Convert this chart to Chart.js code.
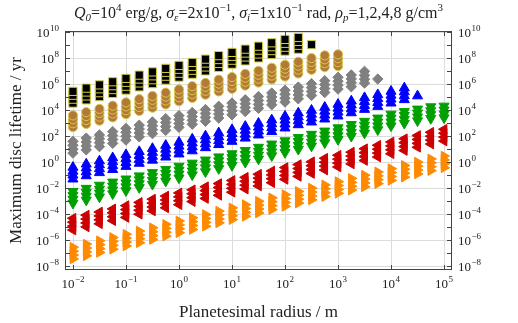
<!DOCTYPE html>
<html>
<head>
<meta charset="utf-8">
<script src="https://cdn.jsdelivr.net/npm/chart.js@4.4.0/dist/chart.umd.min.js"></script>
<style>
  html, body { margin: 0; padding: 0; background: #fff; }
  #wrap { width: 518px; height: 323px; }
</style>
</head>
<body>
<div id="wrap"><canvas id="chart"></canvas></div>
<script>
// planetesimal radius in m (one column of markers per value)
const radius = [1.00e-2, 1.78e-2, 3.16e-2, 5.62e-2, 1.00e-1, 1.78e-1, 3.16e-1, 5.62e-1,
  1.00, 1.78, 3.16, 5.62, 10.0, 17.8, 31.6, 56.2, 100, 178, 316, 562,
  1.00e3, 1.78e3, 3.16e3, 5.62e3, 1.00e4, 1.78e4, 3.16e4, 5.62e4, 1.00e5];

// densities in g/cm3, lifetime goes up with rho
const densities = [1, 2, 4, 8];

// max lifetime (yr) for rho = 1
const tBlack = [3.55e4, 6.31e4, 1.12e5, 1.95e5, 3.55e5, 6.31e5, 1.12e6, 2.09e6, 3.55e6, 6.0e6,
  1.07e7, 2.0e7, 3.55e7, 6.31e7, 1.07e8, 1.95e8, 3.55e8, 5.0e8];
const tBlackEnd = 1.12e9;
const tBrown = [5.01e2, 8.91e2, 1.58e3, 2.82e3, 5.01e3, 8.91e3, 1.58e4, 2.82e4, 5.01e4, 8.91e4,
  1.58e5, 2.82e5, 4.47e5, 7.94e5, 1.35e6, 2.34e6, 3.98e6, 6.76e6, 1.29e7, 2.09e7, 2.51e7];
const tGray = [5.01, 8.91, 15.8, 28.2, 50.1, 89.1, 158, 282, 479, 832,
  1.41e3, 2.51e3, 4.47e3, 7.94e3, 1.41e4, 2.63e4, 4.27e4, 7.59e4, 1.38e5, 2.34e5,
  4.27e5, 6.46e5, 1.23e6];
const tGrayEnd = 2.51e6;
const tBlue = [0.0501, 0.0891, 0.155, 0.269, 0.468, 0.813, 1.41, 2.45, 4.27, 7.41,
  12.9, 22.4, 39.8, 70.8, 123, 224, 427, 759, 1.23e3, 2.09e3,
  3.55e3, 6.31e3, 1.15e4, 1.95e4, 3.55e4, 6.46e4];
const tBlueEnd = 1.26e5;
const tGreen = [7.08e-4, 1.23e-3, 2.14e-3, 3.72e-3, 6.46e-3, 1.12e-2, 2.0e-2, 3.55e-2, 6.17e-2, 0.107,
  0.186, 0.324, 0.562, 1.0, 1.78, 3.16, 5.62, 10, 17.8, 31.6,
  56.2, 100, 178, 316, 631, 1.0e3, 1.55e3, 2.34e3, 2.63e3];
const tRed = [6.03e-6, 1.05e-5, 1.82e-5, 3.16e-5, 5.62e-5, 1.0e-4, 1.78e-4, 3.09e-4, 5.37e-4, 9.33e-4,
  1.62e-3, 2.82e-3, 4.9e-3, 8.51e-3, 1.48e-2, 2.63e-2, 4.79e-2, 8.13e-2, 0.135, 0.251,
  0.427, 0.741, 1.35, 2.51, 4.47, 7.94, 14.1, 25.1, 42.7];
const tOrange = [3.55e-8, 6.17e-8, 1.12e-7, 2.0e-7, 3.55e-7, 6.31e-7, 1.12e-6, 2.04e-6, 3.72e-6, 6.61e-6,
  1.17e-5, 2.14e-5, 3.8e-5, 6.76e-5, 1.23e-4, 2.24e-4, 3.98e-4, 7.08e-4, 1.26e-3, 2.24e-3,
  3.98e-3, 7.08e-3, 1.26e-2, 2.24e-2, 3.98e-2, 7.08e-2, 0.126, 0.224, 0.372];

// tick exponents
const xTickExp = [-2, -1, 0, 1, 2, 3, 4, 5];
const yTickExp = [-8, -7, -6, -5, -4, -3, -2, -1, 0, 1, 2, 3, 4, 5, 6, 7, 8, 9, 10];
const yLabelExp = [-8, -6, -4, -2, 0, 2, 4, 6, 8, 10];

const SERIF = '"Liberation Serif", "DejaVu Serif", serif';

// all densities for one set, last column may only have one marker left
function stack(t, end) {
  const pts = [];
  densities.forEach(rho => {
    t.forEach((v, i) => pts.push({ x: radius[i], y: v * rho }));
  });
  if (end) pts.push({ x: radius[t.length], y: end });
  return pts;
}

function set(data, style, rot, r, fill, edge) {
  return {
    data: data,
    pointStyle: style,
    rotation: rot,
    pointRadius: r,
    backgroundColor: fill,
    borderColor: edge,
    borderWidth: 1,
    showLine: false
  };
}

// superscript power of ten, align 'left' | 'right' | 'center'
function drawPow(ctx, exp, x, y, align) {
  const base = '10';
  const sup = exp < 0 ? '\u2212' + (-exp) : String(exp);
  ctx.font = '13px ' + SERIF;
  const wb = ctx.measureText(base).width;
  ctx.font = '9px ' + SERIF;
  const ws = ctx.measureText(sup).width + 0.5;
  let x0 = x;
  if (align === 'right') x0 = x - wb - ws;
  if (align === 'center') x0 = x - (wb + ws) / 2;
  ctx.textAlign = 'left';
  ctx.textBaseline = 'alphabetic';
  ctx.font = '13px ' + SERIF;
  ctx.fillText(base, x0, y);
  ctx.font = '9px ' + SERIF;
  ctx.fillText(sup, x0 + wb + 0.5, y - 6);
}

function drawTitle(ctx, cx, y) {
  const parts = [
    ['Q', 'i'], ['0', 'isub'], ['=10', 'n'], ['4', 'sup'], [' erg/g, ', 'n'],
    ['\u03c3', 'i'], ['\u03b5', 'isub'], ['=2x10', 'n'], ['\u22121', 'sup'], [', ', 'n'],
    ['\u03c3', 'i'], ['i', 'isub'], ['=1x10', 'n'], ['\u22121', 'sup'], [' rad, ', 'n'],
    ['\u03c1', 'i'], ['p', 'isub'], ['=1,2,4,8 g/cm', 'n'], ['3', 'sup']
  ];
  const fontOf = s => {
    if (s === 'n') return '16px ' + SERIF;
    if (s === 'i') return 'italic 16px ' + SERIF;
    if (s === 'isub') return 'italic 11px ' + SERIF;
    return '11px ' + SERIF;
  };
  let total = 0;
  parts.forEach(p => { ctx.font = fontOf(p[1]); total += ctx.measureText(p[0]).width; });
  let x = cx - total / 2;
  ctx.textAlign = 'left';
  ctx.textBaseline = 'alphabetic';
  parts.forEach(p => {
    ctx.font = fontOf(p[1]);
    let dy = 0;
    if (p[1] === 'isub') dy = 3;
    if (p[1] === 'sup') dy = -7;
    ctx.fillText(p[0], x, y + dy);
    x += ctx.measureText(p[0]).width;
  });
}

const axesPlugin = {
  id: 'axes',
  beforeDatasetsDraw(chart) {
    const { ctx, chartArea: a, scales: { x, y } } = chart;
    ctx.save();
    ctx.strokeStyle = '#dcdcdc';
    ctx.lineWidth = 1;
    ctx.beginPath();
    xTickExp.forEach(e => {
      const px = Math.round(x.getPixelForValue(Math.pow(10, e))) + 0.5;
      ctx.moveTo(px, a.top); ctx.lineTo(px, a.bottom);
    });
    yLabelExp.forEach(e => {
      const py = Math.round(y.getPixelForValue(Math.pow(10, e))) + 0.5;
      ctx.moveTo(a.left, py); ctx.lineTo(a.right, py);
    });
    ctx.stroke();
    ctx.restore();
  },
  afterDatasetsDraw(chart) {
    const { ctx, chartArea: a, scales: { x, y } } = chart;
    ctx.save();
    // frame + inward ticks
    ctx.strokeStyle = '#444';
    ctx.lineWidth = 1;
    ctx.strokeRect(a.left + 0.5, a.top + 0.5, a.right - a.left - 1, a.bottom - a.top - 1);
    ctx.beginPath();
    xTickExp.forEach(e => {
      const px = Math.round(x.getPixelForValue(Math.pow(10, e))) + 0.5;
      ctx.moveTo(px, a.bottom); ctx.lineTo(px, a.bottom - 5);
      ctx.moveTo(px, a.top); ctx.lineTo(px, a.top + 5);
    });
    yTickExp.forEach(e => {
      const py = Math.round(y.getPixelForValue(Math.pow(10, e))) + 0.5;
      ctx.moveTo(a.left, py); ctx.lineTo(a.left + 5, py);
      ctx.moveTo(a.right, py); ctx.lineTo(a.right - 5, py);
    });
    ctx.stroke();

    // tick labels
    ctx.fillStyle = '#222';
    xTickExp.forEach(e => {
      drawPow(ctx, e, x.getPixelForValue(Math.pow(10, e)), a.bottom + 18, 'center');
    });
    yLabelExp.forEach(e => {
      const py = y.getPixelForValue(Math.pow(10, e)) + 4.5;
      drawPow(ctx, e, a.left - 6, py, 'right');
      drawPow(ctx, e, a.right + 6, py, 'left');
    });

    // axis titles
    ctx.font = '17px ' + SERIF;
    ctx.textAlign = 'center';
    ctx.textBaseline = 'alphabetic';
    ctx.fillText('Planetesimal radius / m', (a.left + a.right) / 2, 317);
    ctx.save();
    ctx.translate(21, (a.top + a.bottom) / 2);
    ctx.rotate(-Math.PI / 2);
    ctx.fillText('Maximum disc lifetime / yr', 0, 0);
    ctx.restore();

    drawTitle(ctx, (a.left + a.right) / 2, 18);
    ctx.restore();
  }
};

new Chart(document.getElementById('chart'), {
  type: 'scatter',
  data: {
    datasets: [
      set(stack(tBlack, tBlackEnd), 'rect', 0, 5.8, '#000000', '#d6cf45'),
      set(stack(tBrown), 'circle', 0, 4.6, '#b27a36', '#d9c84a'),
      set(stack(tGray, tGrayEnd), 'rectRot', 0, 5.2, '#808080', '#808080'),
      set(stack(tBlue, tBlueEnd), 'triangle', 0, 5.8, '#0000ff', '#0000ff'),
      set(stack(tGreen), 'triangle', 180, 5.8, '#00a000', '#00a000'),
      set(stack(tRed), 'triangle', 270, 5.6, '#cc0000', '#cc0000'),
      set(stack(tOrange), 'triangle', 90, 5.6, '#ff8a00', '#ff8a00')
    ]
  },
  options: {
    responsive: true,
    maintainAspectRatio: false,
    animation: false,
    layout: { padding: { left: 65, right: 66, top: 31, bottom: 53 } },
    plugins: { legend: { display: false }, tooltip: { enabled: false } },
    scales: {
      x: { type: 'logarithmic', display: false, min: Math.pow(10, -2.15), max: Math.pow(10, 5.15) },
      y: { type: 'logarithmic', display: false, min: Math.pow(10, -8.3), max: Math.pow(10, 10.1) }
    }
  },
  plugins: [axesPlugin]
});
</script>
</body>
</html>
